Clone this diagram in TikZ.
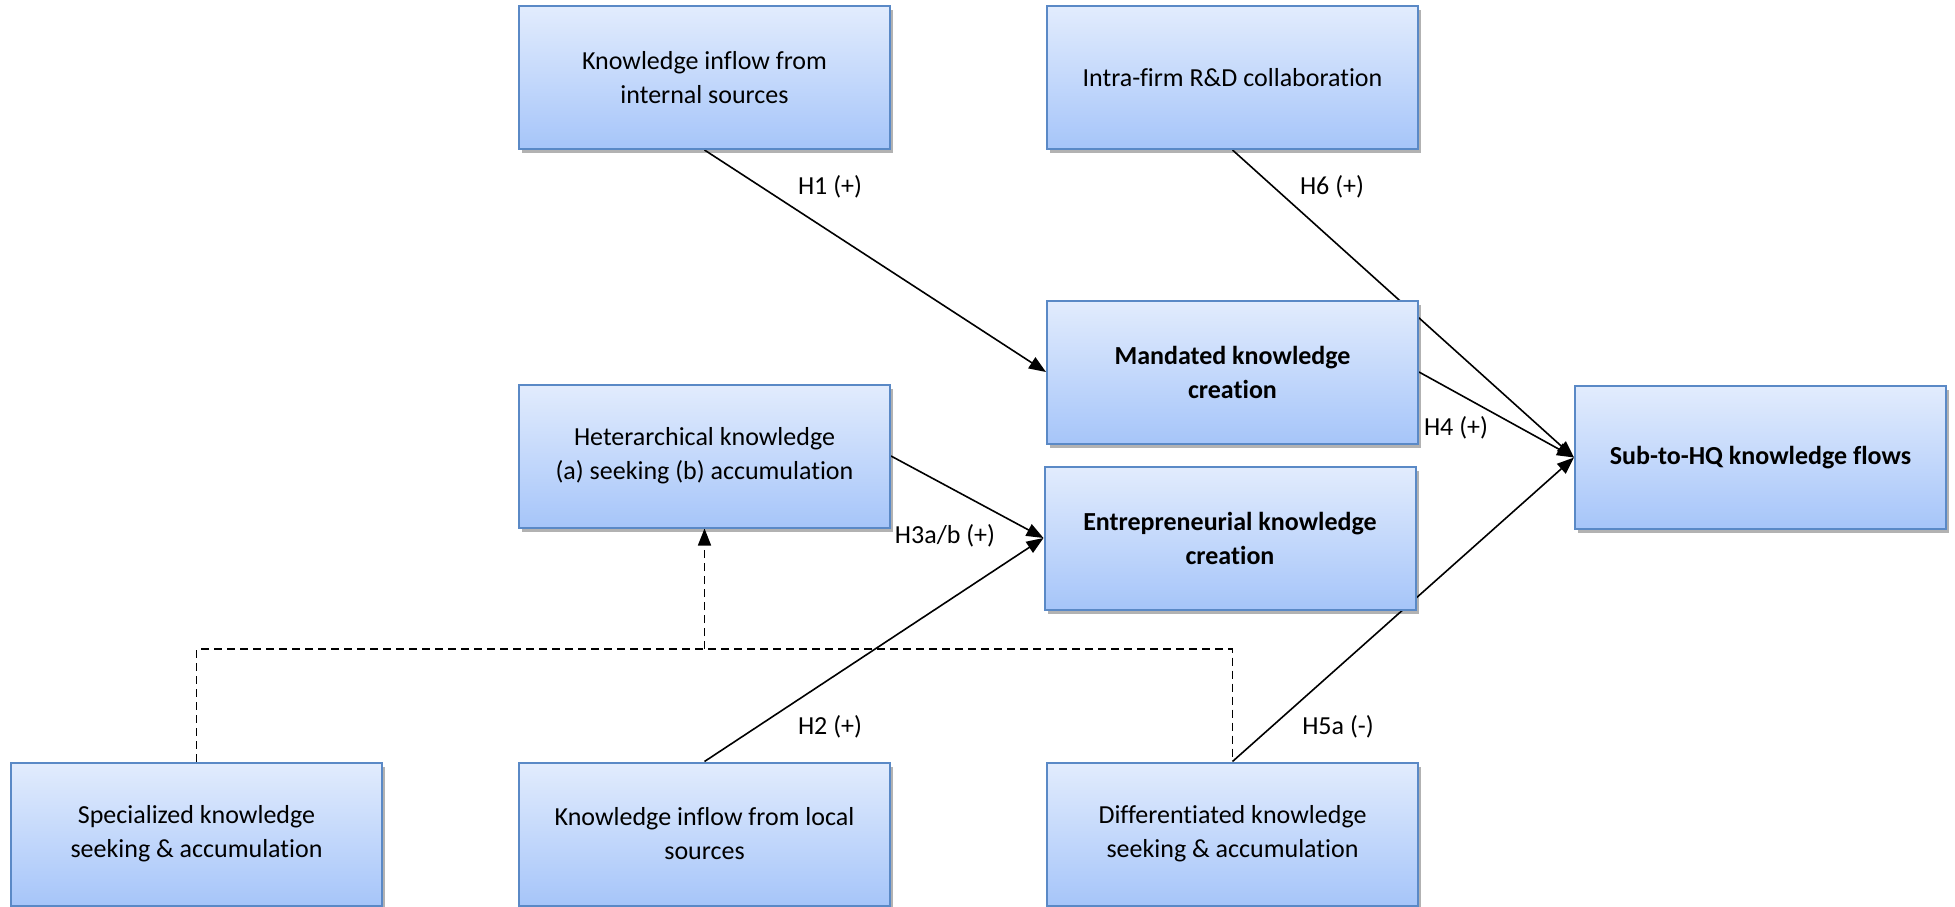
\documentclass[tikz,border=0pt]{standalone}
\usepackage{fontspec}
\setmainfont{Carlito}[Ligatures=CommonOff]
\usetikzlibrary{arrows.meta,shadows,backgrounds}
\definecolor{boxtop}{HTML}{E2ECFD}
\definecolor{boxbot}{HTML}{A6C5F9}
\definecolor{boxline}{HTML}{5A89C6}
\tikzset{
  kbox/.style={draw=boxline, line width=2pt, top color=boxtop, bottom color=boxbot,
    minimum width=371pt, minimum height=143pt, inner sep=0pt, align=center,
    font=\fontsize{26}{34}\selectfont,
    drop shadow={shadow xshift=3pt, shadow yshift=-4pt, opacity=0.3, fill=black}},
  link/.style={line width=1.6pt, -{Triangle[length=17pt,width=13pt]}},
  dline/.style={line width=1.6pt, dash pattern=on 8pt off 5pt},
  hlab/.style={font=\fontsize{26}{30}\selectfont, inner sep=0pt}
}
\begin{document}
\begin{tikzpicture}[x=1pt,y=-1pt]
\useasboundingbox (0,0) rectangle (1955,907);
\node[kbox] (int)   at (704.5,77.5) {Knowledge inflow from\\internal sources};
\node[kbox] (intra) at (1232.5,77.5) {Intra-firm R\&D collaboration};
\node[kbox] (mand)  at (1232.5,372) {\bfseries Mandated knowledge\\\bfseries creation};
\node[kbox] (het)   at (704.5,456) {Heterarchical knowledge\\(a) seeking (b) accumulation};
\node[kbox] (ent)   at (1230,538) {\bfseries Entrepreneurial knowledge\\\bfseries creation};
\node[kbox] (sub)   at (1760.5,457.5) {\bfseries Sub-to-HQ knowledge flows};
\node[kbox] (spec)  at (196.5,834) {Specialized knowledge\\seeking \& accumulation};
\node[kbox] (loc)   at (704.5,834) {Knowledge inflow from local\\sources};
\node[kbox] (diff)  at (1232.5,834) {Differentiated knowledge\\seeking \& accumulation};
\coordinate (dl) at (704.5,649);
\begin{scope}[on background layer]
\draw[link] (int.south) -- (mand.west);
\draw[link] (intra.south) -- (sub.west);
\draw[link] (mand.east) -- (sub.west);
\draw[link] (het.east) -- (ent.west);
\draw[link] (loc.north) -- (ent.west);
\draw[link] (diff.north) -- (sub.west);
\draw[dline] (spec.north) -- (spec.north |- dl) -- (diff.north |- dl) -- (diff.north);
\draw[dline, -{Triangle[length=17pt,width=13pt]}] (dl) -- (het.south);
\end{scope}
\node[hlab] (l1) at (830,187) {H1 (+)};
\node[hlab] (l6) at (1332,187) {H6 (+)};
\node[hlab] (l4) at (1456,428) {H4 (+)};
\node[hlab] (l3) at (945,536) {H3a/b (+)};
\node[hlab] (l2) at (830,727) {H2 (+)};
\node[hlab] (l5) at (1338,727) {H5a (-)};
\end{tikzpicture}
\end{document}
